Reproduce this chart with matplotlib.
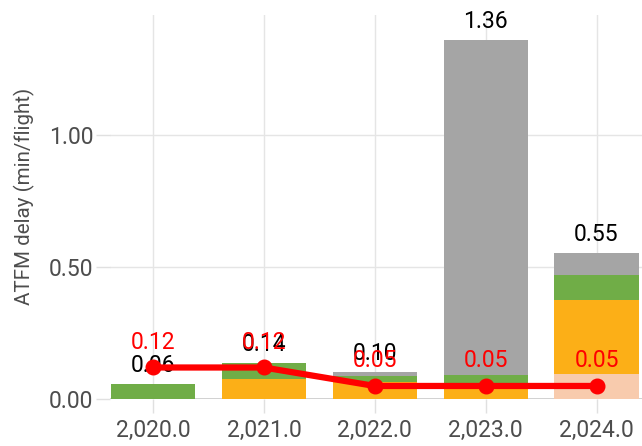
import numpy as np
import matplotlib
matplotlib.use("Agg")
import matplotlib.pyplot as plt
from matplotlib.ticker import FuncFormatter

plt.rcParams['font.family'] = ['Roboto', 'DejaVu Sans']

# data
years = [2020, 2021, 2022, 2023, 2024]
peach = [0.0, 0.0, 0.0, 0.0, 0.095]
orange = [0.0, 0.077, 0.065, 0.06, 0.28]
green = [0.056, 0.06, 0.022, 0.03, 0.095]
gray = [0.0, 0.0, 0.015, 1.27, 0.083]
line_vals = [0.12, 0.12, 0.05, 0.05, 0.05]

seg_colors = ['#f8cbad', '#fcaf17', '#70ad47', '#a5a5a5']

fig = plt.figure(figsize=(6.42, 4.46), dpi=100)
ax = fig.add_axes([0.171, 0.105, 0.829, 0.861])

bottom = np.zeros(len(years))
for vals, col in zip([peach, orange, green, gray], seg_colors):
    ax.bar(years, vals, width=0.76, bottom=bottom, color=col, zorder=2)
    bottom = bottom + np.array(vals)

# totals above the bars
for x, t in zip(years, bottom):
    ax.annotate(f"{t:.2f}", (x, t), xytext=(0, 5), textcoords='offset points',
                ha='center', va='bottom', fontsize=16.5, color='black',
                zorder=3, annotation_clip=False)

ax.plot(years, line_vals, color='#ff0000', lw=4.5, marker='o', markersize=10.5, zorder=4)
for x, v in zip(years, line_vals):
    ax.annotate(f"{v:.2f}", (x, v), xytext=(0, 10), textcoords='offset points',
                ha='center', va='bottom', fontsize=16.5, color='#ff0000', zorder=6)

ax.axhline(0, color='#333333', lw=1, zorder=1)

ax.set_xlim(2019.61, 2024.41)
ax.set_ylim(0, 1.455)
ax.set_xticks(years)
ax.set_yticks([0, 0.5, 1.0])
ax.xaxis.set_major_formatter(FuncFormatter(lambda x, p: f"{x:,.1f}"))
ax.yaxis.set_major_formatter(FuncFormatter(lambda y, p: f"{y:.2f}"))
ax.grid(True, color='#e5e5e5', lw=1, zorder=0)
ax.set_axisbelow(True)
ax.tick_params(axis='both', colors='#e0e0e0', labelcolor='#4d4d4d',
               labelsize=16.5, length=10, width=1)
ax.tick_params(axis='x', pad=4)
ax.tick_params(axis='y', pad=2)
for s in ax.spines.values():
    s.set_visible(False)
ax.set_ylabel("ATFM delay (min/flight)", fontsize=14.8, color='#4d4d4d')
ax.yaxis.set_label_coords(-0.14, 0.529)

fig.savefig("out.png", dpi=100)
